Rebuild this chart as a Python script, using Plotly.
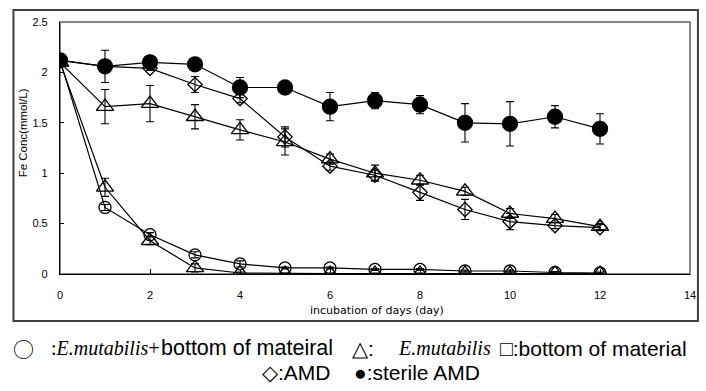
import plotly.graph_objects as go

# Incubation days
days = list(range(0, 13))

# Fe concentration (mmol/L) and standard deviations
sterile_amd = [2.12, 2.06, 2.10, 2.08, 1.85, 1.85, 1.66, 1.72, 1.68, 1.50, 1.49, 1.56, 1.44]
sterile_amd_err = [0.02, 0.16, 0.03, 0.03, 0.10, 0.04, 0.14, 0.08, 0.09, 0.19, 0.22, 0.11, 0.15]

amd = [2.12, 2.06, 2.04, 1.88, 1.74, 1.36, 1.07, 0.98, 0.81, 0.64, 0.52, 0.48, 0.46]
amd_err = [0.02, 0.05, 0.02, 0.08, 0.04, 0.10, 0.04, 0.05, 0.08, 0.10, 0.08, 0.03, 0.03]

e_mutabilis = [2.10, 1.66, 1.69, 1.56, 1.43, 1.31, 1.14, 1.00, 0.93, 0.82, 0.60, 0.55, 0.47]
e_mutabilis_err = [0.02, 0.17, 0.18, 0.12, 0.10, 0.13, 0.05, 0.08, 0.05, 0.04, 0.05, 0.04, 0.03]

bottom_material = [2.10, 0.86, 0.33, 0.06, 0.01, 0.005, 0.005, 0.005, 0.005, 0.005, 0.005, 0.005, 0.005]
bottom_material_err = [0.02, 0.09, 0.04, 0.04, 0.01, 0.005, 0.005, 0.005, 0.005, 0.005, 0.005, 0.005, 0.005]

e_mut_bottom = [2.12, 0.66, 0.39, 0.19, 0.10, 0.06, 0.06, 0.045, 0.045, 0.03, 0.03, 0.015, 0.01]
e_mut_bottom_err = [0.02, 0.03, 0.02, 0.03, 0.03, 0.01, 0.01, 0.01, 0.01, 0.01, 0.01, 0.01, 0.01]

x_ticks = [0, 2, 4, 6, 8, 10, 12, 14]
y_ticks = [0, 0.5, 1, 1.5, 2, 2.5]

SANS = "Liberation Sans, Arial, sans-serif"
WIDE_SANS = "DejaVu Sans, sans-serif"
SERIF = "Liberation Serif, Times New Roman, serif"
SYMBOL = "Noto Sans CJK JP, sans-serif"

# plot area in pixels: x 60..696, y 22..274
PX_L, PX_R, PX_T, PX_B = 60, 696, 22, 274


def px_x(px):
    return (px - PX_L) / (PX_R - PX_L)


def px_y(py):
    return (PX_B - py) / (PX_B - PX_T)


def series(name, y, err, symbol, size):
    return go.Scatter(
        x=days, y=y, name=name, mode="lines+markers",
        line=dict(color="black", width=1.2),
        marker=dict(symbol=symbol, size=size, color="black",
                    line=dict(color="black", width=1.3)),
        error_y=dict(type="data", array=err, visible=True,
                     color="black", thickness=1.1, width=4),
        showlegend=False,
    )


fig = go.Figure()
fig.add_trace(series("bottom of material", bottom_material, bottom_material_err, "triangle-up-open", 15))
fig.add_trace(series("E.mutabilis+bottom of mateiral", e_mut_bottom, e_mut_bottom_err, "circle-open", 12))
fig.add_trace(series("E.mutabilis", e_mutabilis, e_mutabilis_err, "triangle-up-open", 15))
fig.add_trace(series("AMD", amd, amd_err, "diamond-open", 11))
fig.add_trace(series("sterile AMD", sterile_amd, sterile_amd_err, "circle", 15))

# outer frame around the chart
fig.add_shape(type="rect", xref="paper", yref="paper",
              x0=px_x(13), x1=px_x(704), y0=px_y(321), y1=px_y(10),
              line=dict(color="#404040", width=2), layer="below")
# plot area border (top / right)
fig.add_shape(type="rect", xref="paper", yref="paper",
              x0=0, x1=1, y0=0, y1=1,
              line=dict(color="#606060", width=1.5), layer="below")

fig.add_annotation(text="incubation of days (day)", xref="paper", yref="paper",
                   x=px_x(380), y=px_y(310), xanchor="center", yanchor="middle",
                   showarrow=False, font=dict(family=WIDE_SANS, size=11, color="black"))
fig.add_annotation(text="Fe Conc(mmol/L)", xref="paper", yref="paper",
                   x=px_x(23), y=px_y(133), xanchor="center", yanchor="middle", textangle=-90,
                   showarrow=False, font=dict(family=SANS, size=11.5, color="black"))

# key text under the chart: (text, left edge px, centre y px, font family, size)
key_parts = [
    ("○", 12, 348, SYMBOL, 21),
    (":<i>E.mutabilis</i>+", 50, 348, SERIF, 20),
    ("bottom of mateiral", 161, 348, SANS, 21.5),
    ("△:", 354, 348, SANS, 21),
    ("<i>E.mutabilis</i>", 400, 348, SERIF, 20),
    ("□:bottom of material", 503, 348, SANS, 21),
    ("◇:AMD", 263, 372, SANS, 21),
    ("●:sterile AMD", 356, 372, SANS, 21),
]
for text, left, cy, family, size in key_parts:
    fig.add_annotation(text=text, xref="paper", yref="paper",
                       x=px_x(left), y=px_y(cy), xanchor="left", yanchor="middle",
                       showarrow=False, borderpad=0,
                       font=dict(family=family, size=size, color="black"))

fig.update_layout(
    width=706, height=391,
    margin=dict(l=PX_L, r=706 - PX_R, t=PX_T, b=391 - PX_B),
    paper_bgcolor="white", plot_bgcolor="white",
    font=dict(family=SANS, size=11, color="black"),
    xaxis=dict(range=[0, 14], tickvals=x_ticks, showgrid=False, zeroline=False,
               showline=True, linecolor="black", linewidth=1.2,
               ticks="inside", ticklen=5, tickcolor="black",
               ticklabelstandoff=11, tickfont=dict(size=11)),
    yaxis=dict(range=[0, 2.5], tickvals=y_ticks, tickformat="~g", showgrid=False,
               zeroline=False, showline=True, linecolor="black", linewidth=1.2,
               ticks="inside", ticklen=4, tickcolor="black",
               ticklabelstandoff=9, tickfont=dict(size=11)),
)

fig.write_html("out.html")
